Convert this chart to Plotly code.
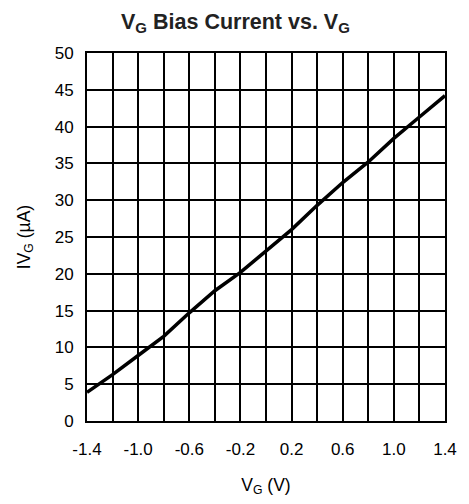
import plotly.graph_objects as go

# V_G (V) vs IV_G (uA) at each 0.2 V gridline
vg = [-1.4, -1.2, -1.0, -0.8, -0.6, -0.4, -0.2, 0.0, 0.2, 0.4, 0.6, 0.8, 1.0, 1.2, 1.4]
ivg = [3.9, 6.3, 8.9, 11.5, 14.7, 17.7, 20.2, 23.1, 26.0, 29.3, 32.4, 35.2, 38.4, 41.3, 44.2]

x_ticks = [-1.4, -1.0, -0.6, -0.2, 0.2, 0.6, 1.0, 1.4]
x_tick_text = ["-1.4", "-1.0", "-0.6", "-0.2", "0.2", "0.6", "1.0", "1.4"]

FONT = "Liberation Sans, Arial, sans-serif"

fig = go.Figure()
fig.add_trace(go.Scatter(
    x=vg, y=ivg,
    mode="lines",
    line=dict(color="black", width=3.5),
    showlegend=False,
))

fig.update_layout(
    width=469, height=504,
    margin=dict(l=87, r=12, t=53, b=80),
    paper_bgcolor="white",
    plot_bgcolor="white",
    font=dict(family=FONT, size=17, color="black"),
    title=dict(
        text="<b>V<sub>G</sub> Bias Current vs. V<sub>G</sub></b>",
        x=0.502, xanchor="center", y=0.958, yanchor="middle",
        font=dict(size=21.5, color="#222"),
    ),
)
fig.update_xaxes(
    range=[-1.4, 1.4],
    tickmode="array", tickvals=x_ticks, ticktext=x_tick_text,
    showgrid=True, gridcolor="black", gridwidth=1.5,
    minor=dict(dtick=0.2, tick0=-1.4, showgrid=True, gridcolor="black", gridwidth=1.5),
    showline=True, linecolor="black", linewidth=2, mirror=True,
    zeroline=False, ticks="", ticklabelstandoff=12, ticklabeloverflow="allow",
    title=dict(text="V<sub>G</sub> (V)", standoff=20, font=dict(size=17.5)),
)
fig.update_yaxes(
    range=[0, 50], dtick=5, tick0=0,
    showgrid=True, gridcolor="black", gridwidth=1.5,
    showline=True, linecolor="black", linewidth=2, mirror=True,
    zeroline=False, ticks="", ticklabelstandoff=8,
    title=dict(text="IV<sub>G</sub> (µA)", standoff=20, font=dict(size=17.5)),
)

# drop the page's default body margin so the figure sits at the window origin
fig.write_html(
    "out.html",
    config={"displayModeBar": False},
    post_script="document.body.style.margin = '0';",
)
